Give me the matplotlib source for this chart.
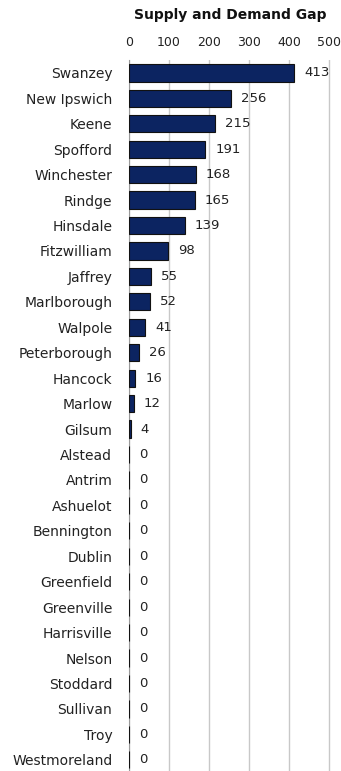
import matplotlib
matplotlib.use('Agg')
import matplotlib.pyplot as plt

towns = ['Swanzey', 'New Ipswich', 'Keene', 'Spofford', 'Winchester', 'Rindge',
         'Hinsdale', 'Fitzwilliam', 'Jaffrey', 'Marlborough', 'Walpole',
         'Peterborough', 'Hancock', 'Marlow', 'Gilsum', 'Alstead', 'Antrim',
         'Ashuelot', 'Bennington', 'Dublin', 'Greenfield', 'Greenville',
         'Harrisville', 'Nelson', 'Stoddard', 'Sullivan', 'Troy', 'Westmoreland']
gap = [413, 256, 215, 191, 168, 165, 139, 98, 55, 52, 41, 26, 16, 12, 4,
       0, 0, 0, 0, 0, 0, 0, 0, 0, 0, 0, 0, 0]
xticks = [0, 100, 200, 300, 400, 500]

plt.rcParams['font.family'] = ['DejaVu Sans']

fig = plt.figure(figsize=(3.41, 7.71), dpi=100)
# x=0 at 129 px, 500 at ~329 px; a little extra room so the 500 gridline shows
ax = fig.add_axes([129 / 341, -0.002, 202 / 341, 0.924])

y = list(range(len(towns)))
ax.barh(y, gap, height=0.68, color='#0c2461', edgecolor='#111111', linewidth=0.8, zorder=3)
for yi, v in zip(y, gap):
    ax.annotate(str(v), (v, yi), xytext=(7, 0), textcoords='offset points',
                va='center', ha='left', fontsize=9.5, color='#222222')

ax.set_xlim(0, 505)
ax.set_ylim(len(towns) - 0.5, -0.5)
ax.set_yticks(y)
ax.set_yticklabels(towns, fontsize=10, color='#222222')
ax.set_xticks(xticks)
ax.xaxis.tick_top()
ax.tick_params(axis='x', labelsize=9, length=0, pad=8, colors='#222222')
ax.tick_params(axis='y', length=0, pad=12)
ax.grid(axis='x', color='#c8c8c8', linewidth=1, zorder=0)
for s in ['top', 'right', 'bottom']:
    ax.spines[s].set_visible(False)
ax.spines['left'].set_color('#999999')
ax.set_title('Supply and Demand Gap', fontsize=10, fontweight='bold', pad=12, color='#111111')

fig.savefig('out.png', dpi=100)
